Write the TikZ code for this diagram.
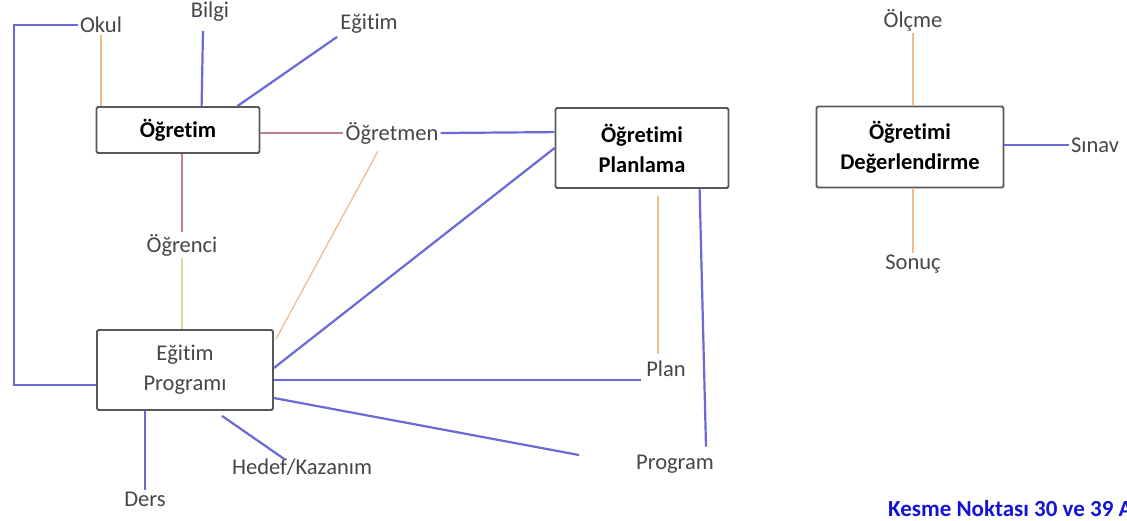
\documentclass[tikz,border=0pt]{standalone}
\usepackage{fontspec}
\setmainfont[Ligatures=NoCommon]{Carlito}
\usetikzlibrary{calc}
\definecolor{lblue}{RGB}{105,105,215}
\definecolor{lorange}{RGB}{240,188,140}
\definecolor{lred}{RGB}{190,130,140}
\definecolor{lgreen}{RGB}{205,220,160}
\definecolor{txt}{RGB}{70,70,70}
\definecolor{kblue}{RGB}{20,20,210}
\begin{document}
\begin{tikzpicture}[x=1pt,y=-1pt,
 lbl/.style={font=\fontsize{22.5}{24}\selectfont, text=txt, inner sep=2pt},
 box/.style={draw=black!65, line width=1.8pt, rounded corners=1.5pt, fill=white,
   font=\fontsize{22.5}{30}\selectfont\bfseries, align=center, inner sep=0pt},
 bl/.style={draw=lblue, line width=2.2pt},
 orl/.style={draw=lorange, line width=1.3pt},
 rdl/.style={draw=lred, line width=1.3pt},
 grl/.style={draw=lgreen, line width=1.3pt}]
\clip (0,0) rectangle (1127,520);
\fill[white] (0,0) rectangle (1127,520);
% boxes
\node[box, minimum width=163pt, minimum height=46pt] (ogretim) at (178,130) {Öğretim};
\node[box, minimum width=173pt, minimum height=80pt] (plan) at (642,148) {Öğretimi\\Planlama};
\node[box, minimum width=187pt, minimum height=81pt] (deg) at (910,147) {Öğretimi\\Değerlendirme};
\node[box, minimum width=176pt, minimum height=80pt, font=\fontsize{22.5}{30}\selectfont, text=txt] (egp) at (185,370) {Eğitim\\Programı};
% labels
\node[lbl] (okul) at (101,25) {Okul};
\node[lbl] (bilgi) at (210,12) {Bilgi};
\node[lbl] (egitim) at (369,24) {Eğitim};
\node[lbl] (ogm) at (392,133) {Öğretmen};
\node[lbl] (ogr) at (182,245) {Öğrenci};
\node[lbl] (planl) at (666,369) {Plan};
\node[lbl] (prog) at (675,464) {Program};
\node[lbl] (hedef) at (302,467) {Hedef/Kazanım};
\node[lbl] (ders) at (145,499) {Ders};
\node[lbl] (olc) at (913,20) {Ölçme};
\node[lbl] (sin) at (1095,145) {Sınav};
\node[lbl] (son) at (913,264) {Sonuç};
\node[anchor=west, font=\fontsize{23}{25}\selectfont\bfseries, text=kblue, inner sep=0pt] (kesme) at (888,509) {Kesme Noktası 30 ve 39 A};
% connectors
\draw[orl] (okul.south) -- (okul.south |- ogretim.north);
\draw[bl] ($(ogretim.north west)+(106,0)$) -- ($(bilgi.south)+(-7,7)$);
\draw[bl] ($(ogretim.north east)+(-23,0)$) -- ($(egitim.south west)+(-1,1)$);
\draw[rdl] (ogm.west) -- (ogm.west -| ogretim.east);
\draw[bl] (ogm.east) -- ($(plan.north west)+(0,25)$);
\draw[rdl] (ogr.north) -- (ogr.north |- ogretim.south);
\draw[grl] (ogr.south) -- (ogr.south |- egp.north);
\draw[orl] ($(egp.north east)+(2,10)$) -- ($(ogm.south)+(-14,5)$);
\draw[bl] ($(egp.east)+(0,-2)$) -- (plan.west);
\draw[bl] (okul.west) -- ++(-64,0) |- ($(egp.west)+(0,15)$);
\draw[bl] ($(egp.east)+(0,10)$) -- ($(planl.west)+(-3,11)$);
\draw[bl] ($(egp.east)+(0,28)$) -- ($(prog.west)+(-55,-9)$);
\draw[orl] ($(plan.south)+(16,7)$) -- ($(planl.north)+(-8,-5)$);
\draw[bl] ($(plan.south west)+(145,0)$) -- ($(prog.north)+(31,-6)$);
\draw[bl] ($(egp.south)+(37,5)$) -- ($(hedef.north)+(-17,3)$);
\draw[bl] (ders.north) -- (ders.north |- egp.south);
\draw[orl] (olc.south) -- (olc.south |- deg.north);
\draw[orl] (son.north) -- (son.north |- deg.south);
\draw[bl] (sin.west) -- (sin.west -| deg.east);
\end{tikzpicture}
\end{document}
